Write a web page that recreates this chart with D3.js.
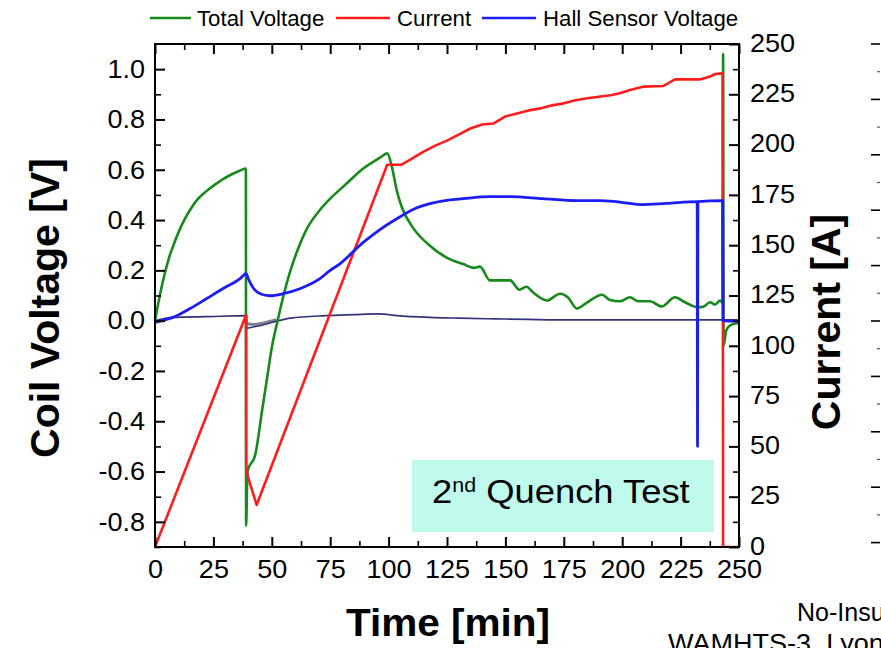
<!DOCTYPE html>
<html>
<head>
<meta charset="utf-8">
<script src="https://cdn.jsdelivr.net/npm/d3@7"></script>
<style>
  html, body { margin: 0; padding: 0; background: #fff; }
  svg { display: block; }
  text { font-family: Arial, "Liberation Sans", Roboto, sans-serif; fill: #000; }
</style>
</head>
<body>
<svg id="chart" width="881" height="648"></svg>
<script>
// ---- Quench test record: time [min] vs. voltages [V] and current [A] ----

// Total coil voltage (left axis)
const tvTime = [0, 1, 2.5, 4, 6, 7.7, 10, 12.5, 15, 18, 22, 25.5, 29, 32.5, 36, 38.9,
  39.0, 39.6, 43, 45.8, 48, 50, 52.5, 55, 58, 61, 65, 70.6, 75, 82, 89, 96.3, 99.4,
  101.5, 103.5, 105.7, 110.4, 117.7, 125, 132, 136.5, 139.1, 143.4, 152, 156, 159, 162,
  167.8, 173.4, 176.8, 180.6, 184.9, 191.4, 194.8, 199, 203.3, 206.9, 211.9, 216.9,
  222.6, 226.9, 232.6, 234.7, 237.6, 239.7, 241.9, 243.0, 243.2, 243.4, 244.5, 246, 248, 250];
const tvVolt = [0, 0.05, 0.12, 0.18, 0.25, 0.295, 0.35, 0.40, 0.44, 0.48, 0.515, 0.54, 0.562, 0.58, 0.595, 0.605,
  -0.815, -0.60, -0.53, -0.36, -0.227, -0.107, 0.0, 0.10, 0.20, 0.28, 0.365, 0.44, 0.485, 0.545, 0.604, 0.648, 0.665,
  0.608, 0.517, 0.45, 0.37, 0.298, 0.25, 0.225, 0.21, 0.215, 0.16, 0.16, 0.123, 0.135, 0.111,
  0.08, 0.107, 0.092, 0.048, 0.072, 0.103, 0.082, 0.077, 0.093, 0.077, 0.077, 0.056,
  0.093, 0.073, 0.053, 0.055, 0.073, 0.064, 0.08, 0.07, 1.06, -0.10, -0.04, -0.02, -0.012, -0.01];

// Transport current (right axis)
const curTime = [0, 39, 39.05, 39.8, 40.6, 43.5, 99.4, 105.6, 110, 115, 120, 125, 130, 135, 140, 145,
  150, 155, 160, 165, 170, 175, 180, 185, 190, 195, 199, 203.3, 209, 217.5, 222.6, 233.3, 237.6,
  239.7, 243, 243.2, 250];
const curAmp = [0, 115.3, 40, 34.8, 31.8, 20.9, 190, 190, 193, 196.5, 199.5, 202, 205, 208, 210, 210.5,
  214, 215.5, 217, 218, 219.5, 220.5, 222, 223, 223.8, 224.5, 225.5, 227.1, 228.8, 229.1, 232.4, 232.4, 233.8,
  235.1, 235.4, 0, 0];

// Hall sensor voltage (left axis)
const hallTime = [0, 3, 7.7, 15, 22, 29, 36.4, 39, 40, 42, 45, 49.2, 54.8, 62, 70.6, 75, 79, 89, 96,
  103.5, 110, 117.7, 125, 132, 143.4, 152, 166, 180.6, 190.5, 203.3, 207.6, 219, 232.1, 232.25, 232.4,
  243, 243.2, 250];
const hallVolt = [-0.007, 0.0, 0.013, 0.048, 0.087, 0.127, 0.167, 0.187, 0.165, 0.131, 0.107, 0.099, 0.107,
  0.127, 0.167, 0.2, 0.225, 0.31, 0.36, 0.405, 0.44, 0.465, 0.478, 0.485, 0.493, 0.493, 0.485, 0.477, 0.477,
  0.466, 0.461, 0.466, 0.473, -0.50, 0.473, 0.477, 0.0, -0.003];

// Section voltage traces close to zero (left axis)
const secTime = [0, 7.7, 22, 39, 39.2, 42, 45, 49, 53, 58, 73, 85, 96, 103.6, 117.7, 130, 146, 160, 175, 200, 250];
const secVolt = [0, 0.013, 0.016, 0.02, -0.03, -0.025, -0.02, -0.01, 0.0, 0.01, 0.02, 0.024, 0.027, 0.02,
  0.013, 0.01, 0.007, 0.005, 0.003, 0.003, 0.003];
const secTime2 = [39, 39.2, 43, 47, 52];
const secVolt2 = [0.02, -0.012, -0.015, -0.008, 0.004];

// Axis ticks
const timeTicks = [0, 25, 50, 75, 100, 125, 150, 175, 200, 225, 250];
const timeMinor = [12.5, 37.5, 62.5, 87.5, 112.5, 137.5, 162.5, 187.5, 212.5, 237.5];
const voltTicks = [-0.8, -0.6, -0.4, -0.2, 0.0, 0.2, 0.4, 0.6, 0.8, 1.0];
const voltTickLabels = ["-0.8", "-0.6", "-0.4", "-0.2", "0.0", "0.2", "0.4", "0.6", "0.8", "1.0"];
const voltMinor = [-0.9, -0.7, -0.5, -0.3, -0.1, 0.1, 0.3, 0.5, 0.7, 0.9];
const ampTicks = [0, 25, 50, 75, 100, 125, 150, 175, 200, 225, 250];
const ampMinor = [12.5, 37.5, 62.5, 87.5, 112.5, 137.5, 162.5, 187.5, 212.5, 237.5];

const legendItems = ["Total Voltage", "Current", "Hall Sensor Voltage"];
const colors = { total: "#178a1c", current: "#ff1c1c", hall: "#1c1cf5", section: "#34347e" };

// ---- layout ----
const svg = d3.select("#chart");
const plot = { left: 155, right: 739, top: 44, bottom: 547 };
const SX = 1.04; // horizontal stretch of tick labels

const x = d3.scaleLinear().domain([0, 250]).range([plot.left, plot.right]);
const yV = d3.scaleLinear().domain([-0.9, 1.1]).range([plot.bottom, plot.top]);
const yA = d3.scaleLinear().domain([0, 250]).range([plot.bottom, plot.top]);

svg.append("rect").attr("width", 881).attr("height", 648).attr("fill", "#fff");

svg.append("defs").append("clipPath").attr("id", "plotClip")
  .append("rect").attr("x", plot.left).attr("y", plot.top)
  .attr("width", plot.right - plot.left).attr("height", plot.bottom - plot.top);

// ---- annotation box ----
const boxG = svg.append("g");
boxG.append("rect").attr("x", 412).attr("y", 460).attr("width", 302).attr("height", 72).attr("fill", "#bffaec");
const boxText = boxG.append("text").attr("transform", "translate(432,503) scale(1.07,1)")
  .style("font-size", "34px");
boxText.append("tspan").text("2");
boxText.append("tspan").attr("dy", -11).style("font-size", "20px").text("nd");
boxText.append("tspan").attr("dy", 11).text(" Quench Test");

// ---- lines ----
const lines = svg.append("g").attr("clip-path", "url(#plotClip)");
function series(ts, vs, yScale) { return ts.map((t, i) => [x(t), yScale(vs[i])]); }
const smooth = d3.line().curve(d3.curveMonotoneX);
const straight = d3.line();

lines.append("path").attr("d", smooth(series(secTime2, secVolt2, yV)))
  .attr("fill", "none").attr("stroke", "#5d6278").attr("stroke-width", 3).attr("opacity", 0.8);
lines.append("path").attr("d", smooth(series(secTime, secVolt, yV)))
  .attr("fill", "none").attr("stroke", colors.section).attr("stroke-width", 1.6);
lines.append("path").attr("d", smooth(series(tvTime, tvVolt, yV)))
  .attr("fill", "none").attr("stroke", colors.total).attr("stroke-width", 2.6).attr("stroke-linejoin", "round");
lines.append("path").attr("d", straight(series(curTime, curAmp, yA)))
  .attr("fill", "none").attr("stroke", colors.current).attr("stroke-width", 2.6).attr("stroke-linejoin", "round");
lines.append("path").attr("d", smooth(series(hallTime, hallVolt, yV)))
  .attr("fill", "none").attr("stroke", colors.hall).attr("stroke-width", 2.8).attr("stroke-linejoin", "round");

// ---- axes (ticks point inward) ----
function styleAxis(g, width) {
  g.select(".domain").remove();
  g.selectAll("line").attr("stroke", "#000").attr("stroke-width", width);
}
function stretchLabels(g, prop, pos) {
  g.selectAll("text").style("font-size", "26px").style("font-family", "Arial, 'Liberation Sans', Roboto, sans-serif")
    .attr(prop, pos / (prop === "x" ? SX : 1))
    .attr("transform", `scale(${SX},1)`);
}

// bottom
const gB = svg.append("g").attr("transform", `translate(0,${plot.bottom})`)
  .call(d3.axisBottom(x).tickValues(timeTicks).tickSize(-10).tickPadding(14).tickFormat(d3.format("d")));
styleAxis(gB, 2);
stretchLabels(gB, "y", 13);
svg.append("g").attr("transform", `translate(0,${plot.bottom})`)
  .call(d3.axisBottom(x).tickValues(timeMinor).tickSize(-6).tickFormat(""))
  .call(g => styleAxis(g, 1.6));
// top
svg.append("g").attr("transform", `translate(0,${plot.top})`)
  .call(d3.axisTop(x).tickValues(timeTicks).tickSize(-10).tickFormat(""))
  .call(g => styleAxis(g, 2));
svg.append("g").attr("transform", `translate(0,${plot.top})`)
  .call(d3.axisTop(x).tickValues(timeMinor).tickSize(-6).tickFormat(""))
  .call(g => styleAxis(g, 1.6));
// left
const gL = svg.append("g").attr("transform", `translate(${plot.left},0)`)
  .call(d3.axisLeft(yV).tickValues(voltTicks).tickSize(-10).tickPadding(10)
    .tickFormat((d, i) => voltTickLabels[i]));
styleAxis(gL, 2);
stretchLabels(gL, "x", -10);
svg.append("g").attr("transform", `translate(${plot.left},0)`)
  .call(d3.axisLeft(yV).tickValues(voltMinor).tickSize(-6).tickFormat(""))
  .call(g => styleAxis(g, 1.6));
// right
const gR = svg.append("g").attr("transform", `translate(${plot.right},0)`)
  .call(d3.axisRight(yA).tickValues(ampTicks).tickSize(-10).tickPadding(11).tickFormat(d3.format("d")));
styleAxis(gR, 2);
stretchLabels(gR, "x", 11);
gR.selectAll("text").attr("dy", "0.28em");
svg.append("g").attr("transform", `translate(${plot.right},0)`)
  .call(d3.axisRight(yA).tickValues(ampMinor).tickSize(-6).tickFormat(""))
  .call(g => styleAxis(g, 1.6));

// frame
svg.append("rect").attr("x", plot.left).attr("y", plot.top)
  .attr("width", plot.right - plot.left).attr("height", plot.bottom - plot.top)
  .attr("fill", "none").attr("stroke", "#000").attr("stroke-width", 2);

// ---- axis titles ----
svg.append("text").attr("transform", "translate(59,308) rotate(-90)").attr("text-anchor", "middle")
  .style("font-size", "41px").style("font-weight", "bold").text("Coil Voltage [V]");
svg.append("text").attr("transform", "translate(840,322) rotate(-90)").attr("text-anchor", "middle")
  .style("font-size", "41px").style("font-weight", "bold").text("Current [A]");
svg.append("text").attr("transform", "translate(448,636) scale(1.04,1)").attr("text-anchor", "middle")
  .style("font-size", "39px").style("font-weight", "bold").text("Time [min]");

// ---- legend ----
const legendX = [[150, 191, 197], [336, 390, 397], [482, 536, 543]];
const legendColors = [colors.total, colors.current, colors.hall];
const lg = svg.append("g");
legendItems.forEach((name, i) => {
  const [x0, x1, tx] = legendX[i];
  lg.append("line").attr("x1", x0).attr("x2", x1).attr("y1", 18).attr("y2", 18)
    .attr("stroke", legendColors[i]).attr("stroke-width", 2.6);
  lg.append("text").attr("transform", `translate(${tx},26) scale(1.01,1)`)
    .style("font-size", "22px").text(name);
});

// ---- neighbouring panel edge and caption ----
const edgeMajor = d3.range(10).map(i => 44 + i * 55.4);
const edge = svg.append("g");
edgeMajor.forEach((yy, i) => {
  edge.append("line").attr("x1", 871).attr("x2", 880).attr("y1", yy).attr("y2", yy)
    .attr("stroke", "#000").attr("stroke-width", 1.6);
  if (i < edgeMajor.length - 1) {
    edge.append("line").attr("x1", 877).attr("x2", 880).attr("y1", yy + 27.7).attr("y2", yy + 27.7)
      .attr("stroke", "#555").attr("stroke-width", 1.2);
  }
});
svg.append("text").attr("transform", "translate(797,621)")
  .style("font-size", "25px").text("No-Insulation");
svg.append("text").attr("transform", "translate(668,652) scale(1.04,1)")
  .style("font-size", "26px").text("WAMHTS-3, Lyon");
</script>
</body>
</html>
